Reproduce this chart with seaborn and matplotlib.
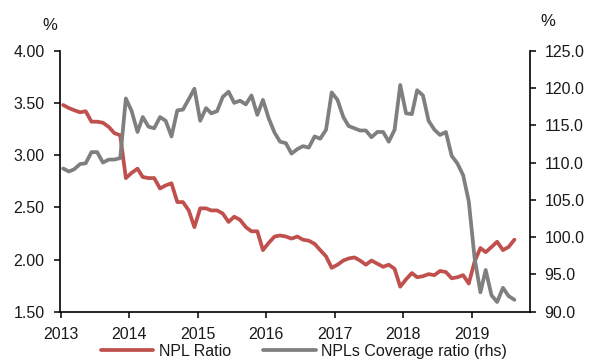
import matplotlib
matplotlib.use("Agg")
import datetime as dt
import pandas as pd
import matplotlib.pyplot as plt
import matplotlib.dates as mdates
import seaborn as sns

# Monthly observations, Jan 2013 - Aug 2019 (plotted mid-month)
months = pd.date_range("2013-01-01", "2019-08-01", freq="MS") + pd.Timedelta(days=14)

npl_ratio = [
    3.48, 3.45, 3.43, 3.41, 3.42, 3.32, 3.32, 3.31, 3.27, 3.21, 3.19, 2.78,
    2.83, 2.87, 2.79, 2.78, 2.78, 2.68, 2.71, 2.73, 2.55, 2.55, 2.47, 2.31,
    2.49, 2.49, 2.47, 2.47, 2.44, 2.36, 2.41, 2.38, 2.31, 2.27, 2.27, 2.09,
    2.16, 2.22, 2.23, 2.22, 2.20, 2.22, 2.19, 2.18, 2.15, 2.09, 2.03, 1.92,
    1.95, 1.99, 2.01, 2.02, 1.99, 1.95, 1.99, 1.96, 1.93, 1.95, 1.91, 1.74,
    1.81, 1.87, 1.83, 1.84, 1.86, 1.85, 1.89, 1.88, 1.82, 1.83, 1.85, 1.77,
    1.98, 2.11, 2.07, 2.12, 2.17, 2.09, 2.12, 2.19,
]

coverage_ratio = [
    109.2, 108.8, 109.1, 109.8, 109.9, 111.4, 111.4, 110.0, 110.4, 110.4, 110.6, 118.6,
    116.9, 114.1, 116.1, 114.8, 114.6, 116.1, 115.6, 113.5, 117.0, 117.1, 118.5, 119.9,
    115.6, 117.3, 116.6, 116.9, 118.8, 119.5, 118.0, 118.3, 117.8, 119.0, 116.4, 118.4,
    115.9, 114.0, 112.8, 112.6, 111.2, 111.8, 112.2, 112.0, 113.5, 113.2, 114.4, 119.4,
    118.4, 116.1, 114.9, 114.6, 114.3, 114.3, 113.4, 114.1, 114.1, 112.8, 114.4, 120.4,
    116.6, 116.5, 119.7, 119.0, 115.6, 114.4, 113.7, 114.1, 110.9, 109.9, 108.3, 104.8,
    97.2, 92.6, 95.6, 92.2, 91.3, 93.2, 92.1, 91.6,
]

series_names = ["NPL Ratio", "NPLs Coverage ratio (rhs)"]
left_ticks = [1.50, 2.00, 2.50, 3.00, 3.50, 4.00]
right_ticks = [90.0, 95.0, 100.0, 105.0, 110.0, 115.0, 120.0, 125.0]

df = pd.DataFrame({"month": months,
                   series_names[0]: npl_ratio,
                   series_names[1]: coverage_ratio})

RED = "#C0504D"
GRAY = "#7F7F7F"
INK = "#1a1a1a"
FS = 11.5
LW = 2.7

sns.set_theme(style="ticks")
plt.rcParams["font.family"] = ["Liberation Sans", "DejaVu Sans"]
plt.rcParams["axes.edgecolor"] = "black"

W, H = 590, 361
fig = plt.figure(figsize=(W / 100, H / 100), dpi=100)
ax = fig.add_axes([60.5 / W, 1 - 311.7 / H, (530 - 60.5) / W, (311.7 - 50.7) / H])

sns.lineplot(data=df, x="month", y=series_names[0], ax=ax, color=RED,
             linewidth=LW, legend=False)
ax2 = ax.twinx()
sns.lineplot(data=df, x="month", y=series_names[1], ax=ax2, color=GRAY,
             linewidth=LW, legend=False)

ax.set_xlim(dt.datetime(2013, 1, 1), dt.datetime(2019, 11, 6))
ax.xaxis.set_major_locator(mdates.YearLocator())
ax.xaxis.set_major_formatter(mdates.DateFormatter("%Y"))

ax.set_ylim(left_ticks[0], left_ticks[-1])
ax.set_yticks(left_ticks)
ax.set_yticklabels([f"{v:.2f}" for v in left_ticks])
ax2.set_ylim(right_ticks[0], right_ticks[-1])
ax2.set_yticks(right_ticks)
ax2.set_yticklabels([f"{v:.1f}" for v in right_ticks])

for a in (ax, ax2):
    a.set_xlabel("")
    a.set_ylabel("")
    a.spines["top"].set_visible(False)
    for s in a.spines.values():
        s.set_linewidth(1.2)
        s.set_color("black")

ax.spines["right"].set_visible(False)
ax2.spines["left"].set_visible(False)
ax2.spines["bottom"].set_visible(False)

ax.tick_params(axis="y", direction="out", length=4.5, width=1.1, pad=7,
               labelsize=FS, labelcolor=INK, color="black")
ax.tick_params(axis="x", direction="out", length=4, width=1.1, pad=7,
               labelsize=FS, labelcolor=INK, color="black")
ax2.tick_params(axis="y", direction="out", length=4.5, width=1.1, pad=6,
                labelsize=FS, labelcolor=INK, color="black")

fig.text(50 / W, 1 - 26 / H, "%", ha="center", va="center", fontsize=FS + 0.5, color=INK)
fig.text(548 / W, 1 - 21.7 / H, "%", ha="center", va="center", fontsize=FS + 0.5, color=INK)

handles = [ax.get_lines()[0], ax2.get_lines()[0]]
fig.legend(handles, series_names, loc="center",
           bbox_to_anchor=(304 / W, 1 - 351.5 / H), ncol=2, frameon=False,
           fontsize=FS, handlelength=3.3, handletextpad=0.35,
           columnspacing=2.0, labelcolor=INK)

fig.savefig("out.png", dpi=100)
